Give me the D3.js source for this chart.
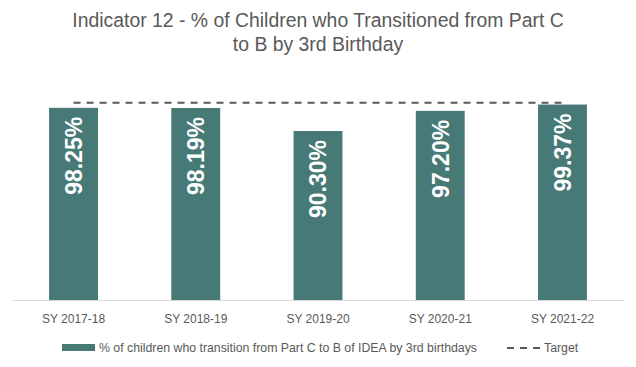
<!DOCTYPE html>
<html><head><meta charset="utf-8">
<script src="https://cdn.jsdelivr.net/npm/d3@7"></script>
<style>body{margin:0;background:#fff}svg{display:block}</style>
</head><body>
<svg id="c" width="636" height="367"></svg>
<script>
const categories = ["SY 2017-18","SY 2018-19","SY 2019-20","SY 2020-21","SY 2021-22"];
const values = [98.25, 98.19, 90.30, 97.20, 99.37];
const labels = ["98.25%","98.19%","90.30%","97.20%","99.37%"];
const target = [100, 100, 100, 100, 100];
const titleLines = ["Indicator 12 - % of Children who Transitioned from Part C","to B by 3rd Birthday"];
const seriesName = "% of children who transition from Part C to B of IDEA by 3rd birthdays";
const targetName = "Target";

const svg = d3.select("#c");
const font = "'Liberation Sans', Arial, sans-serif";
const barColor = "#477a77";
const gray = "#595959";

const x = d3.scaleBand().domain(categories).range([12.4, 623.6]).paddingInner(0.6).paddingOuter(0.3);
const y = d3.scaleLinear().domain([32.4, 100]).range([300, 102.7]);

// title
svg.append("g").selectAll("text").data(titleLines).join("text")
  .attr("x", 318).attr("y", (d,i)=>27 + i*23.5)
  .attr("text-anchor","middle").attr("font-family",font).attr("font-size",19.4)
  .attr("fill",gray).text(d=>d);

// axis line
svg.append("line").attr("x1",12.4).attr("x2",623.6).attr("y1",300.5).attr("y2",300.5)
  .attr("stroke","#d9d9d9").attr("stroke-width",1);

// bars
svg.append("g").selectAll("rect").data(values).join("rect")
  .attr("x",(d,i)=>x(categories[i])).attr("width",x.bandwidth())
  .attr("y",d=>y(d)).attr("height",d=>y.range()[0]-y(d))
  .attr("fill",barColor);

// target line
const line = d3.line().x((d,i)=>x(categories[i])+x.bandwidth()/2).y(d=>y(d));
svg.append("path").datum(target).attr("d",line).attr("fill","none")
  .attr("stroke",gray).attr("stroke-width",2).attr("stroke-dasharray","7,6");

// bar labels
svg.append("g").selectAll("text").data(values).join("text")
  .attr("transform",(d,i)=>`translate(${x(categories[i])+x.bandwidth()/2},${y(d)+9}) rotate(-90)`)
  .attr("text-anchor","end").attr("dy","0.36em")
  .attr("font-family",font).attr("font-weight","bold").attr("font-size",23)
  .attr("fill","#fff").text((d,i)=>labels[i]);

// x labels
svg.append("g").selectAll("text").data(categories).join("text")
  .attr("x",d=>x(d)+x.bandwidth()/2).attr("y",323)
  .attr("text-anchor","middle").attr("font-family",font).attr("font-size",12)
  .attr("fill",gray).text(d=>d);

// legend
const lg = svg.append("g");
lg.append("rect").attr("x",62).attr("y",344).attr("width",33).attr("height",7).attr("fill",barColor);
lg.append("text").attr("x",99).attr("y",352).attr("font-family",font).attr("font-size",12.3)
  .attr("fill",gray).text(seriesName);
lg.append("line").attr("x1",507).attr("x2",542).attr("y1",348).attr("y2",348)
  .attr("stroke",gray).attr("stroke-width",2).attr("stroke-dasharray","7,6");
lg.append("text").attr("x",544).attr("y",352).attr("font-family",font).attr("font-size",12.3)
  .attr("fill",gray).text(targetName);
</script>
</body></html>
